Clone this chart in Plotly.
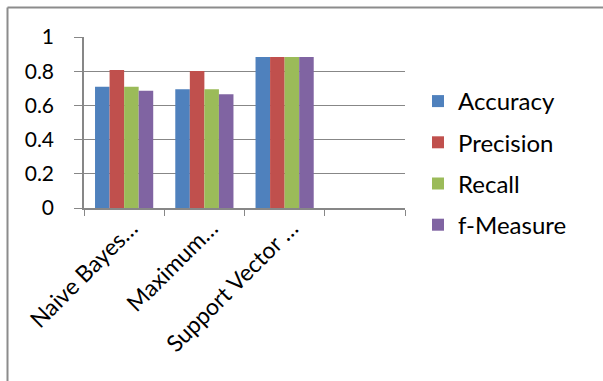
import plotly.graph_objects as go

categories = ["Naive Bayes…", "Maximum…", "Support Vector …", " "]
accuracy = [0.709, 0.694, 0.883, None]
precision = [0.807, 0.801, 0.883, None]
recall = [0.709, 0.694, 0.883, None]
f_measure = [0.686, 0.665, 0.883, None]

series = [
    ("Accuracy", accuracy, "#4F81BD"),
    ("Precision", precision, "#C0504D"),
    ("Recall", recall, "#9BBB59"),
    ("f-Measure", f_measure, "#8064A2"),
]

FONT = "Lato, 'Open Sans', sans-serif"
GRID = "#878787"

W, H = 603, 381
L, R, T, B = 84, 198, 37, 173
pw, ph = W - L - R, H - T - B


def px_x(x):
    return (x - L) / pw


def px_y(y):
    return (H - B - y) / ph


fig = go.Figure()
for name, vals, color in series:
    fig.add_trace(go.Bar(
        x=categories, y=vals, name=name, legendgroup=name,
        marker=dict(color=color, line=dict(width=0)),
    ))

fig.update_layout(
    width=W, height=H,
    margin=dict(l=L, r=R, t=T, b=B, pad=0),
    paper_bgcolor="white", plot_bgcolor="white",
    barmode="group", bargap=0.275, bargroupgap=0,
    font=dict(family=FONT, size=22, color="black"),
    showlegend=True,
    legend=dict(
        x=px_x(418), y=px_y(79), xanchor="left", yanchor="top",
        traceorder="grouped", tracegroupgap=7,
        font=dict(family=FONT, size=24, color="black"),
        itemwidth=30, bgcolor="rgba(0,0,0,0)", maxheight=300,
    ),
    xaxis=dict(
        type="category", categoryorder="array", categoryarray=categories,
        tickangle=-45, tickson="boundaries", ticks="outside", ticklen=6,
        tickcolor=GRID, showline=True, linecolor=GRID, linewidth=1.5,
        showgrid=False, tickfont=dict(family=FONT, size=23),
        ticklabelshift=7, ticklabelstandoff=-4,
    ),
    yaxis=dict(
        range=[0, 1], dtick=0.2, tickformat="~g",
        ticks="outside", ticklen=8, tickcolor=GRID,
        showline=True, linecolor=GRID, linewidth=1.5,
        showgrid=True, gridcolor=GRID, gridwidth=1,
        zeroline=False, tickfont=dict(family=FONT, size=21),
        ticklabelstandoff=16,
    ),
    shapes=[
        dict(type="line", xref="paper", yref="paper",
             x0=px_x(7.5), x1=px_x(603), y0=px_y(7.5), y1=px_y(7.5),
             line=dict(color="#8c8c8c", width=2)),
        dict(type="line", xref="paper", yref="paper",
             x0=px_x(7.5), x1=px_x(7.5), y0=px_y(7.5), y1=px_y(381),
             line=dict(color="#8c8c8c", width=2)),
    ],
)

fig.write_html("out.html")
